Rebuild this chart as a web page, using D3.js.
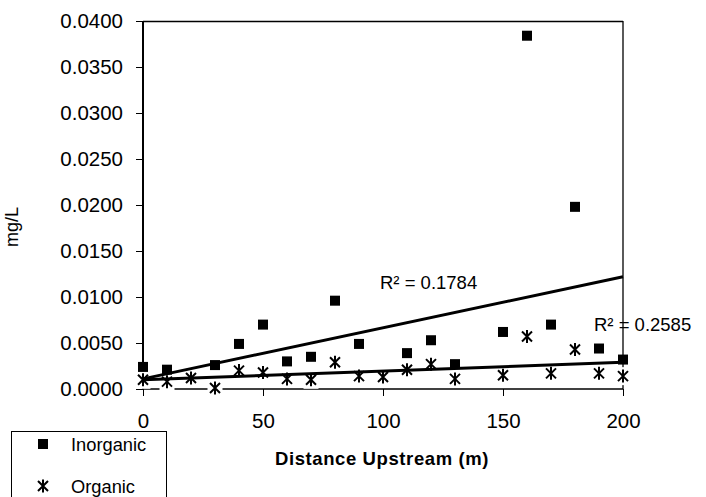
<!DOCTYPE html>
<html><head><meta charset="utf-8">
<script src="https://cdn.jsdelivr.net/npm/d3@7"></script>
<style>html,body{margin:0;padding:0;background:#fff;}svg{display:block;font-family:"Liberation Sans",Arial,sans-serif;}</style>
</head><body>
<svg id="c" width="706" height="497"></svg>
<script>
const inorganicX = [0, 10, 30, 40, 50, 60, 70, 80, 90, 110, 120, 130, 150, 160, 170, 180, 190, 200];
const inorganicY = [0.0024, 0.0021, 0.0026, 0.0049, 0.0070, 0.0030, 0.0035, 0.0096, 0.0049, 0.0039, 0.0053, 0.0027, 0.0062, 0.0384, 0.0070, 0.0198, 0.0044, 0.0032];
const organicX = [0, 10, 20, 30, 40, 50, 60, 70, 80, 90, 100, 110, 120, 130, 150, 160, 170, 180, 190, 200];
const organicY = [0.0010, 0.0008, 0.0012, 0.0001, 0.0020, 0.0018, 0.0011, 0.0010, 0.0029, 0.0014, 0.0013, 0.0021, 0.0027, 0.0011, 0.0015, 0.0057, 0.0017, 0.0043, 0.0017, 0.0014];
const trendInorganic = [[0, 0.0011], [200, 0.0122]];
const trendOrganic = [[0, 0.0010], [200, 0.0029]];
const r2Inorganic = "R\u00B2 = 0.1784";
const r2Organic = "R\u00B2 = 0.2585";
const xTicks = [0, 50, 100, 150, 200];
const yTicks = [0, 0.005, 0.01, 0.015, 0.02, 0.025, 0.03, 0.035, 0.04];
const seriesNames = ["Inorganic", "Organic"];
const xTitle = "Distance Upstream (m)";
const yTitle = "mg/L";

const svg = d3.select("#c");
const L = 143, R = 623, T = 21, B = 389;
const x = d3.scaleLinear().domain([0, 200]).range([L, R]);
const y = d3.scaleLinear().domain([0, 0.04]).range([B, T]);

// y axis
const ya = svg.append("g").attr("transform", `translate(${L},0)`)
  .call(d3.axisLeft(y).tickValues(yTicks).tickFormat(d3.format(".4f")).tickSize(7).tickPadding(13));
ya.select(".domain").remove();
ya.selectAll(".tick line").attr("stroke", "#000");
ya.selectAll(".tick text").attr("font-size", "20.5px").attr("fill", "#000").attr("font-family", "Liberation Sans, Arial, sans-serif");

// x axis
const xa = svg.append("g").attr("transform", `translate(0,${B})`)
  .call(d3.axisBottom(x).tickValues(xTicks).tickSize(7).tickPadding(17));
xa.select(".domain").remove();
xa.selectAll(".tick line").attr("stroke", "#000");
xa.selectAll(".tick text").attr("font-size", "20.5px").attr("fill", "#000").attr("font-family", "Liberation Sans, Arial, sans-serif");

// frame
svg.append("line").attr("x1", L).attr("x2", R).attr("y1", T + 0.5).attr("y2", T + 0.5).attr("stroke", "#000").attr("stroke-width", 1.3);
svg.append("line").attr("x1", R).attr("x2", R).attr("y1", T).attr("y2", B).attr("stroke", "#000").attr("stroke-width", 1.3);
svg.append("line").attr("x1", L).attr("x2", R).attr("y1", B).attr("y2", B).attr("stroke", "#000").attr("stroke-width", 1.5);
svg.append("line").attr("x1", L).attr("x2", L).attr("y1", T).attr("y2", B).attr("stroke", "#000").attr("stroke-width", 2);

function asterisk(g) {
  g.append("rect").attr("x", -7.5).attr("y", -9).attr("width", 15).attr("height", 18).attr("fill", "#fff");
  g.append("path").attr("d", "M-5,-5L5,5M-5,5L5,-5M0,-6.5L0,6.5").attr("stroke", "#000").attr("stroke-width", 2).attr("fill", "none");
}
function square(g) {
  g.append("rect").attr("x", -5).attr("y", -5).attr("width", 10).attr("height", 10).attr("fill", "#000");
}

// organic points
const org = organicX.map((d, i) => [d, organicY[i]]);
svg.append("g").selectAll("g").data(org).join("g")
  .attr("transform", d => `translate(${x(d[0])},${y(d[1])})`).each(function () { asterisk(d3.select(this)); });

// inorganic points
const ino = inorganicX.map((d, i) => [d, inorganicY[i]]);
svg.append("g").selectAll("g").data(ino).join("g")
  .attr("transform", d => `translate(${x(d[0])},${y(d[1])})`).each(function () { square(d3.select(this)); });

// trend lines
const line = d3.line().x(d => x(d[0])).y(d => y(d[1]));
[trendInorganic, trendOrganic].forEach(t => {
  svg.append("path").attr("d", line(t)).attr("stroke", "#000").attr("stroke-width", 3).attr("fill", "none");
});

// R2 labels
svg.append("text").attr("x", 380).attr("y", 289).attr("font-size", "18.5px").text(r2Inorganic);
svg.append("text").attr("x", 594).attr("y", 331).attr("font-size", "18.5px").text(r2Organic);

// titles
svg.append("text").attr("x", 382).attr("y", 465).attr("text-anchor", "middle").attr("font-size", "18.5px")
  .attr("font-weight", "bold").attr("letter-spacing", "0.6px").text(xTitle);
svg.append("text").attr("transform", "translate(18,227) rotate(-90)").attr("text-anchor", "middle")
  .attr("font-size", "18px").text(yTitle);

// legend
const lg = svg.append("g");
lg.append("rect").attr("x", 11.5).attr("y", 431.5).attr("width", 155).attr("height", 90).attr("fill", "#fff").attr("stroke", "#000").attr("stroke-width", 1);
const legY = [444, 486];
seriesNames.forEach((n, i) => {
  const g = lg.append("g").attr("transform", `translate(43,${legY[i]})`);
  if (i === 0) square(g); else g.append("path").attr("d", "M-5,-5L5,5M-5,5L5,-5M0,-6.5L0,6.5").attr("stroke", "#000").attr("stroke-width", 2);
  lg.append("text").attr("x", 71).attr("y", legY[i] + 6.5).attr("font-size", "18.3px").text(n);
});
</script>
</body></html>
